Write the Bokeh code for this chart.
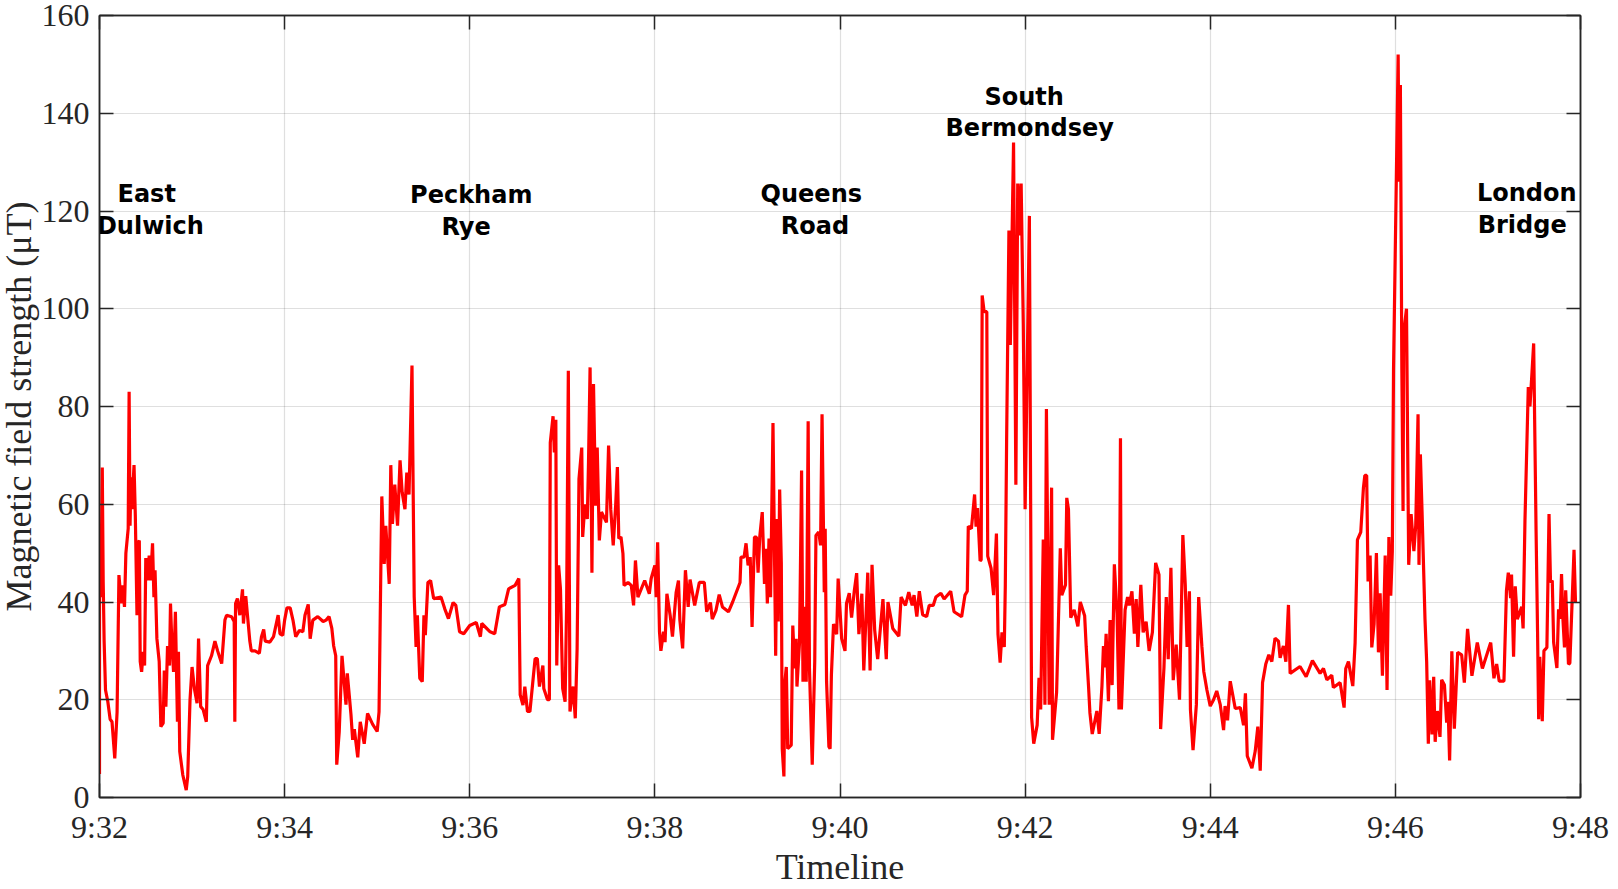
from bokeh.embed import file_html
from bokeh.models import ColumnDataSource, FixedTicker, LinearAxis
from bokeh.plotting import figure
from bokeh.resources import INLINE
from bokeh.core.properties import value

# minutes after 9:32
minutes_1 = [
    0, 0, .014, .03, .04, .05, .065, .09, .115, .135,
    .165, .19, .21, .235, .25, .27, .285, .31, .32, .33,
    .34, .35, .373, .387, .405, .415, .43, .44, .455, .473,
    .487, .50, .516, .537, .552, .573, .588, .60, .62, .645,
    .663, .688, .70, .717, .735, .756, .767, .78, .80, .82,
    .842, .853, .867, .90, .937, .953, .978, 1.0, 1.025, 1.054,
    1.07, 1.093, 1.12, 1.154, 1.168, 1.21, 1.247, 1.276, 1.32, 1.355,
    1.373, 1.427, 1.455, 1.462, 1.47, 1.49, 1.516, 1.545, 1.555, 1.58,
    1.624, 1.64, 1.68, 1.727, 1.75, 1.774, 1.79, 1.84, 1.88, 1.93,
    1.95, 1.98, 2.0, 2.025, 2.06, 2.09, 2.12, 2.16, 2.197, 2.22,
]
field_1 = [
    4.8, 45, 41, 67.5, 44, 32, 22, 19.6, 16, 15.5,
    8, 17.5, 45.5, 39.7, 43.4, 39, 50, 55, 83, 55.6,
    65.5, 59, 68, 57.7, 37.3, 52, 52.6, 27.8, 25.7, 29.8,
    27, 49, 44.4, 49.5, 44.4, 52, 41, 46.5, 32.5, 27.8,
    14.5, 15.2, 26, 18.6, 31, 27, 39.7, 32.5, 25.7, 38,
    15.5, 29.8, 9.4, 4.6, 1.5, 4.3, 20, 26.7, 22.3, 19.3,
    32.5, 18.6, 18, 15.5, 27, 29, 32, 30, 27.4, 36.3,
    37.3, 37, 36, 15.5, 39.7, 40.7, 37.3, 42.6, 35.6, 41.2,
    32, 30, 30, 29.5, 32.9, 34.4, 32, 31.8, 32.9, 37.3,
    33.5, 33.2, 36.3, 38.8, 38.8, 36.3, 32.9, 34.2, 33.9, 37.3,
]

minutes_2 = [
    2.255, 2.276, 2.305, 2.358, 2.416, 2.448, 2.48, 2.51, 2.53, 2.552,
    2.563, 2.59, 2.62, 2.663, 2.677, 2.717, 2.735, 2.753, 2.79, 2.817,
    2.86, 2.896, 2.95, 3.0, 3.02, 3.04, 3.05, 3.076, 3.093, 3.13,
    3.147, 3.165, 3.19, 3.22, 3.247, 3.27, 3.30, 3.32, 3.344, 3.376,
    3.385, 3.40, 3.42, 3.434, 3.46, 3.487, 3.505, 3.52, 3.548, 3.577,
    3.61, 3.69, 3.73, 3.77, 3.82, 3.85, 3.89, 3.935, 4.0, 4.07,
    4.115, 4.13, 4.22, 4.27, 4.32, 4.38, 4.42, 4.49, 4.53, 4.545,
    4.575, 4.595, 4.624, 4.65, 4.706, 4.73, 4.753, 4.79, 4.80, 4.84,
    4.86, 4.87, 4.90, 4.914, 4.93, 4.94, 4.96, 4.98, 5.004, 5.03,
    5.047, 5.065, 5.083, 5.118, 5.14, 5.16, 5.18, 5.21, 5.22, 5.244,
]
field_2 = [
    39.5, 32.5, 36.3, 37, 36, 36.3, 37, 34.6, 31, 29,
    6.7, 13.5, 29, 19, 25.4, 16.9, 11.8, 14, 8.2, 15.5,
    11, 17.2, 15, 13.5, 17.5, 47.5, 61.6, 47.8, 55.6, 43.7,
    68, 56, 64, 55.6, 69, 62.4, 59, 66.5, 62, 88.4,
    70, 41, 30.8, 37.3, 24.4, 23.7, 37.3, 33.2, 44, 44.4,
    40.7, 41, 38.6, 36.6, 39.9, 39.3, 33.9, 33.5, 35.2, 35.8,
    32.9, 35.6, 33.9, 33.5, 39, 39.5, 42.7, 43.4, 44.8, 21,
    18.9, 22.7, 17.6, 17.6, 28.4, 28.4, 22.7, 27, 22.3, 20,
    20, 72.6, 78, 70.6, 77.3, 27, 47.5, 42.7, 22.3, 19.6,
    40, 87.3, 17.6, 22.7, 16.2, 30.5, 65.2, 71.6, 53.3, 60,
]

minutes_3 = [
    5.27, 5.283, 5.30, 5.32, 5.337, 5.36, 5.377, 5.40, 5.423, 5.477,
    5.50, 5.523, 5.55, 5.577, 5.595, 5.61, 5.634, 5.655, 5.667, 5.71,
    5.745, 5.77, 5.79, 5.817, 5.89, 5.94, 5.96, 6.0, 6.014, 6.03,
    6.05, 6.065, 6.093, 6.11, 6.13, 6.165, 6.19, 6.23, 6.255, 6.27,
    6.30, 6.33, 6.36, 6.38, 6.43, 6.48, 6.534, 6.56, 6.60, 6.62,
    6.66, 6.695, 6.73, 6.795, 6.84, 6.92, 6.93, 6.964, 6.985, 7.007,
    7.03, 7.05, 7.076, 7.097, 7.115, 7.133, 7.16, 7.184, 7.2, 7.215,
    7.233, 7.25, 7.276, 7.305, 7.32, 7.333, 7.348, 7.366, 7.376, 7.394,
    7.405, 7.42, 7.435, 7.473, 7.49, 7.51, 7.527, 7.535, 7.563, 7.585,
    7.60, 7.617, 7.635, 7.656, 7.67, 7.70, 7.727, 7.74, 7.77, 7.79,
    7.806, 7.83, 7.84, 7.855, 7.88, 7.893, 7.907, 7.93, 7.964, 7.98,
]
field_3 = [
    57, 68.6, 88, 46, 84.6, 59.7, 71.6, 52.6, 58.4, 56.3,
    72, 59, 51.6, 60, 67.6, 53, 53.3, 49.9, 43.4, 44,
    43.4, 39.3, 48.5, 41, 44.4, 41.7, 44.8, 47.5, 41, 52.2,
    33.9, 30, 33.9, 31.8, 41.7, 37.3, 32.9, 42, 44.4, 36.3,
    30.5, 46.5, 39, 44.6, 39.3, 44, 44, 38, 39.9, 36.5,
    38.3, 41.5, 39, 38, 40, 44, 49.2, 49.2, 52, 47.5,
    49.2, 34.9, 53.3, 53.3, 46, 53.3, 58.4, 43.7, 50.9, 39.7,
    53, 41, 76.6, 29, 57, 36, 63, 48, 10, 4.3,
    23.7, 26.7, 10, 10.7, 35.2, 26.4, 32.5, 22.7, 31.8, 66.9,
    23.7, 39, 23.7, 77, 26.4, 6.7, 27.8, 53.6, 54.3, 51.6,
    78.4, 42, 55, 23.7, 10.4, 10, 25, 35.5, 33.4, 44.8,
]

minutes_4 = [
    8.018, 8.054, 8.07, 8.10, 8.125, 8.154, 8.18, 8.204, 8.236, 8.257,
    8.30, 8.325, 8.346, 8.375, 8.407, 8.464, 8.50, 8.518, 8.57, 8.636,
    8.66, 8.707, 8.743, 8.78, 8.80, 8.83, 8.857, 8.893, 8.936, 8.964,
    9.007, 9.036, 9.09, 9.125, 9.196, 9.232, 9.314, 9.35, 9.375, 9.386,
    9.42, 9.454, 9.47, 9.486, 9.514, 9.525, 9.536, 9.557, 9.586, 9.596,
    9.632, 9.66, 9.69, 9.707, 9.73, 9.75, 9.775, 9.786, 9.80, 9.825,
    9.84, 9.875, 9.90, 9.92, 9.943, 9.957, 9.98, 10.0, 10.046, 10.07,
    10.093, 10.13, 10.15, 10.168, 10.196, 10.214, 10.23, 10.26, 10.286, 10.296,
    10.34, 10.38, 10.396, 10.436, 10.45, 10.468, 10.493, 10.53, 10.57, 10.596,
    10.643, 10.66, 10.686, 10.70, 10.725, 10.775, 10.80, 10.83, 10.846, 10.86,
]
field_4 = [
    32.5, 30, 39.7, 41.8, 36.8, 42.2, 45.9, 33.4, 41.7, 26,
    46, 26, 47.6, 34.2, 28.3, 40.6, 28.3, 40, 34.6, 33,
    41, 39.3, 42, 39.3, 41.4, 37, 42.2, 37.4, 37, 39.3,
    39.3, 41, 41.8, 40.6, 42.2, 38, 37, 41.4, 42.2, 55.5,
    55, 62, 55.4, 59.2, 48.4, 48.6, 102.7, 99.4, 99.4, 49.4,
    46.9, 41.4, 54, 33.4, 27.6, 33.8, 30.8, 43.5, 73, 116,
    92.6, 134, 64, 125.6, 115, 125.6, 97, 59, 119, 16.4,
    11, 14.8, 24.5, 18, 52.8, 19, 79.5, 19, 63.4, 11.8,
    21.5, 51, 41.4, 43.5, 61.3, 59, 36.8, 38.4, 35, 40,
    37.2, 30.8, 22.4, 17.3, 13, 17.7, 13, 22.8, 31, 26.6,
]

minutes_5 = [
    10.875, 10.90, 10.918, 10.94, 10.964, 10.993, 11.014, 11.03, 11.04, 11.08,
    11.107, 11.125, 11.154, 11.18, 11.2, 11.218, 11.25, 11.275, 11.307, 11.34,
    11.375, 11.41, 11.446, 11.464, 11.5, 11.525, 11.546, 11.575, 11.6, 11.632,
    11.668, 11.704, 11.73, 11.75, 11.775, 11.786, 11.814, 11.85, 11.875, 11.91,
    11.93, 11.964, 12.0, 12.036, 12.07, 12.108, 12.144, 12.16, 12.187, 12.216,
    12.27, 12.324, 12.36, 12.38, 12.40, 12.45, 12.486, 12.514, 12.54, 12.565,
    12.6, 12.633, 12.665, 12.70, 12.737, 12.755, 12.79, 12.817, 12.845, 12.863,
    12.97, 13.036, 13.104, 13.187, 13.223, 13.26, 13.313, 13.33, 13.403, 13.446,
    13.464, 13.493, 13.54, 13.565, 13.59, 13.626, 13.655, 13.67, 13.69, 13.705,
    13.727, 13.745, 13.77, 13.795, 13.817, 13.835, 13.86, 13.89, 13.91, 13.93,
]
field_5 = [
    33.5, 19.7, 36.3, 23, 47.7, 37.6, 18, 73.5, 18, 38.4,
    41, 39.3, 42.2, 33.5, 40.6, 30.8, 43.5, 33.8, 36, 30,
    33.8, 48, 45.6, 14, 26.6, 41, 28.3, 47, 24, 31.3,
    20, 53.7, 43.5, 30.8, 42.2, 18, 9.7, 19, 41, 30.8,
    25.8, 22, 18.7, 20, 21.8, 19, 13.8, 18.7, 15.8, 23.8,
    18.2, 18.4, 14.8, 21.3, 8.5, 6, 9.5, 14.5, 5.5, 23.5,
    27.3, 29.2, 27.8, 32.6, 32, 28.6, 31, 27.8, 39.4, 25.4,
    26.8, 24.7, 28, 25.4, 26.4, 24.1, 25, 22.5, 23.5, 18.4,
    26.4, 27.8, 22.8, 31.7, 52.7, 54.3, 63.4, 65.9, 65.9, 44.2,
    49.5, 30.7, 35.5, 50, 29.7, 41.8, 24.9, 49.5, 22, 53.3,
]

minutes_6 = [
    13.95, 13.967, 13.98, 14.03, 14.04, 14.054, 14.07, 14.083, 14.09, 14.12,
    14.144, 14.17, 14.2, 14.22, 14.245, 14.255, 14.27, 14.288, 14.32, 14.338,
    14.356, 14.37, 14.396, 14.414, 14.43, 14.453, 14.482, 14.5, 14.53, 14.554,
    14.568, 14.586, 14.61, 14.637, 14.673, 14.716, 14.745, 14.78, 14.827, 14.885,
    14.94, 15.03, 15.065, 15.094, 15.122, 15.173, 15.2, 15.22, 15.245, 15.255,
    15.277, 15.295, 15.317, 15.365, 15.38, 15.40, 15.436, 15.454, 15.476, 15.494,
    15.52, 15.536, 15.548, 15.56, 15.587, 15.605, 15.637, 15.66, 15.676, 15.695,
    15.71, 15.745, 15.763, 15.78, 15.795, 15.81, 15.827, 15.84, 15.87, 15.885,
    15.93, 15.946,
]
field_6 = [
    41.3, 50.4, 87.5, 152, 126, 145.8, 87.5, 58.6, 95, 100,
    47.6, 58, 50.4, 55.7, 78.4, 47.6, 70.2, 58.6, 36.5, 27.8,
    11, 24, 12.9, 24.7, 11.4, 17.7, 12.4, 24.1, 23, 15.3,
    19.6, 7.6, 29.9, 14.1, 29.7, 29.2, 23.5, 34.5, 24.9, 31.7,
    26.4, 31.7, 24.4, 27.3, 23.8, 23.8, 42.3, 46, 40.8, 45.6,
    28.8, 43.2, 36.5, 39, 34.6, 56.6, 84, 80, 87, 92.9,
    54.6, 34, 16, 28.8, 15.6, 30, 30.7, 58, 44, 44.4,
    31.7, 26.5, 38.5, 36.6, 45.7, 36.6, 30.7, 42.4, 27.3, 27.5,
    50.7, 40,
]

minutes = minutes_1 + minutes_2 + minutes_3 + minutes_4 + minutes_5 + minutes_6
field = field_1 + field_2 + field_3 + field_4 + field_5 + field_6

x_ticks = [0, 2, 4, 6, 8, 10, 12, 14, 16]
x_tick_labels = ["9:32", "9:34", "9:36", "9:38", "9:40", "9:42", "9:44", "9:46", "9:48"]
y_ticks = [0, 20, 40, 60, 80, 100, 120, 140, 160]

stations = ["East", "Dulwich", "Peckham", "Rye", "Queens", "Road", "South", "Bermondsey", "London", "Bridge"]
station_x = [.51, .55, 4.016, 3.96, 7.69, 7.73, 9.99, 10.05, 15.42, 15.37]
station_y = [123.5, 117, 123.2, 116.7, 123.5, 117, 143.3, 137, 123.7, 117.2]

p = figure(width=1615, height=897, output_backend="svg", toolbar_location=None,
           x_range=(0, 16), y_range=(0, 160),
           min_border_left=97, min_border_right=30, min_border_top=23, min_border_bottom=89)
p.margin = (-8, -8, -16, -5)
p.outline_line_color = "#262626"
p.outline_line_width = 1.5

ink = "#262626"
for axis, ticks, labels in [(p.xaxis[0], x_ticks, dict(zip(x_ticks, x_tick_labels))),
                            (p.yaxis[0], y_ticks, None)]:
    axis.ticker = FixedTicker(ticks=ticks)
    if labels:
        axis.major_label_overrides = labels
    axis.minor_tick_line_color = None
    axis.major_tick_in = 14
    axis.major_tick_out = 0
    axis.major_tick_line_color = ink
    axis.major_tick_line_width = 1.5
    axis.axis_line_color = ink
    axis.axis_line_width = 1.5
    axis.major_label_text_font = "Liberation Serif"
    axis.major_label_text_font_size = "32px"
    axis.major_label_text_color = ink
    axis.axis_label_text_font = "Liberation Serif"
    axis.axis_label_text_font_size = "36px"
    axis.axis_label_text_font_style = "normal"
    axis.axis_label_text_color = ink

p.xaxis[0].axis_label = "Timeline"
p.xaxis[0].major_label_standoff = 11
p.xaxis[0].axis_label_standoff = -1
p.yaxis[0].axis_label = "Magnetic field strength (μT)"
p.yaxis[0].major_label_standoff = 10
p.yaxis[0].axis_label_standoff = 0

# mirrored ticks on the top and right of the box
top_axis = LinearAxis(ticker=FixedTicker(ticks=x_ticks),
                      major_label_overrides={t: "" for t in x_ticks})
right_axis = LinearAxis(ticker=FixedTicker(ticks=y_ticks),
                        major_label_overrides={t: "" for t in y_ticks})
for axis in (top_axis, right_axis):
    axis.minor_tick_line_color = None
    axis.major_tick_in = 14
    axis.major_tick_out = 0
    axis.major_tick_line_color = ink
    axis.major_tick_line_width = 1.5
    axis.axis_line_color = ink
    axis.axis_line_width = 1.5
    axis.major_label_standoff = 0
    axis.major_label_text_font_size = "1px"
p.add_layout(top_axis, "above")
p.add_layout(right_axis, "right")

p.grid.grid_line_color = "#262626"
p.grid.grid_line_alpha = 0.15
p.grid.grid_line_width = 1.2

source = ColumnDataSource(data=dict(minutes=minutes, field=field))
p.line("minutes", "field", source=source, line_color="#ff0000", line_width=3.2, line_join="bevel")

labels = ColumnDataSource(data=dict(x=station_x, y=station_y, name=stations))
p.text("x", "y", text="name", source=labels, text_font=value("DejaVu Sans"), text_font_style="bold",
       text_font_size="24px", text_align="center", text_baseline="alphabetic", text_color="#000000")

open("out.html", "w").write(file_html(p, INLINE))
